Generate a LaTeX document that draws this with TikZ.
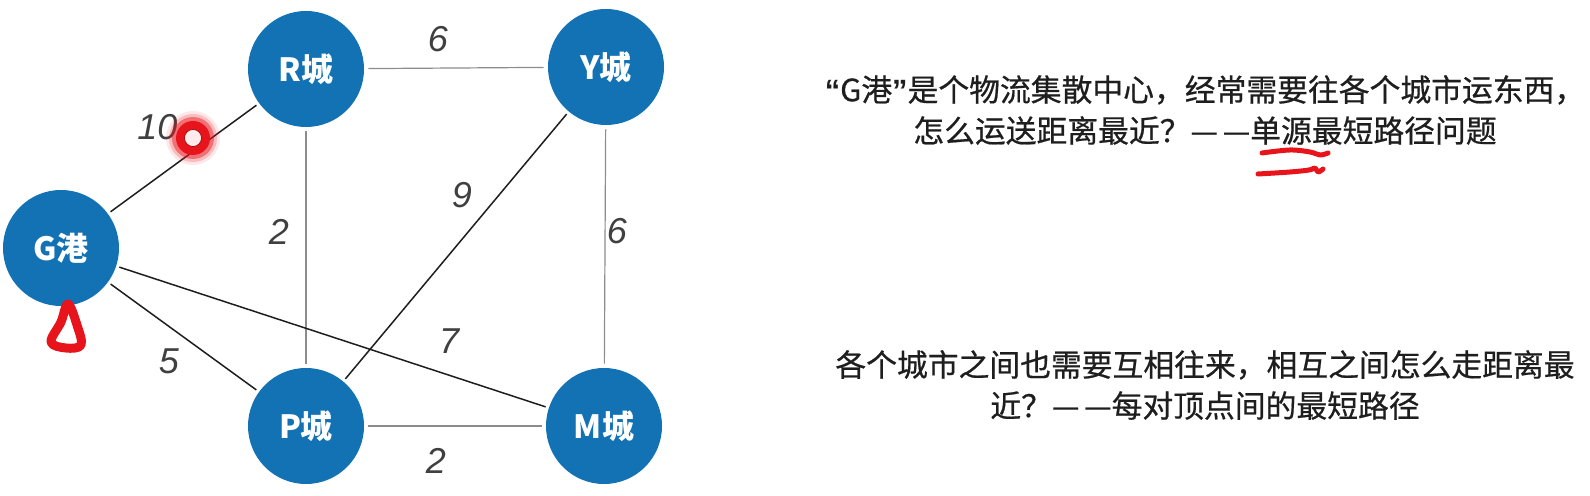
\documentclass[tikz,border=0pt]{standalone}
\usepackage{fontspec}
\usepackage{tikz}
\usetikzlibrary{positioning}
\setmainfont{Liberation Sans}
\newfontfamily\cjk{Noto Sans CJK SC}
\newfontfamily\cjkm[FakeBold=0.6]{Noto Sans CJK SC}
\definecolor{cityblue}{HTML}{1272B4}
\definecolor{ink}{HTML}{1E1E1E}
\definecolor{pale}{HTML}{8C8C8C}
\definecolor{penred}{HTML}{E8141B}
\tikzset{
  city/.style={circle, fill=cityblue, minimum size=58pt, inner sep=0pt, text=white, font=\cjk\bfseries\fontsize{16}{18}\selectfont},
  road/.style={draw=ink, line width=0.75pt, shorten <=1.5pt, shorten >=1.5pt},
  lane/.style={draw=pale, line width=0.6pt, shorten <=2pt, shorten >=2pt},
  wt/.style={font=\itshape\fontsize{18}{20}\selectfont, text=ink!85, inner sep=1pt},
  note/.style={font=\cjkm\fontsize{15.4}{20.5}\selectfont, align=center, text=ink},
  scrawl/.style={draw=penred, line cap=round, line join=round},
}
\newcommand{\road}[5]{\draw[#1] (#2) -- node[wt, #4] {#5} (#3);}
\newcommand{\dd}{—\hspace{0.15em}—}

\begin{document}
\begin{tikzpicture}[x=0.5pt,y=-0.5pt]
  \useasboundingbox (0,0) rectangle (1590,496);
  % cities
  \node[city] (g) at (61,248) {G港};
  \node[city] (r) at (306,69) {R城};
  \node[city] (y) at (606,67) {Y城};
  \node[city] (p) at (306,426) {P城};
  \node[city] (m) at (604,426) {M城};
  % roads
  \road{lane}{r}{y}{shift={(-18,-29)}}{6}
  \road{road}{g}{r}{shift={(-26,-31)}}{10}
  \road{lane}{r}{p}{shift={(-27,-16)}}{2}
  \road{road}{y}{p}{shift={(6,-51)}}{9}
  \road{lane}{y}{m}{shift={(12,-15)}}{6}
  \road{road}{g}{m}{pos=0.77, shift={(0,-34)}}{7}
  \road{road}{g}{p}{shift={(-14.5,24)}}{5}
  \road{lane}{p}{m}{shift={(-19,35)}}{2}
  % red pen marks
  \foreach \rr/\op in {27/0.1, 24/0.2, 21/0.45}
    \fill[penred, opacity=\op] (193,138) circle[radius=\rr];
  \fill[penred] (193,138) circle[radius=17];
  \filldraw[fill=red!8, draw=red!55!black, line width=0.3pt] (193,138) circle[radius=8.5];
  \draw[scrawl, line width=4.5pt] plot[smooth cycle, tension=0.6] coordinates {(68,304) (61,322) (51,342) (66,348) (81,345) (77,325)};
  \draw[scrawl, line width=2.5pt] plot[smooth, tension=0.6] coordinates {(1262,153) (1290,150) (1310,152) (1320,155) (1328,153)};
  \draw[scrawl, line width=2.5pt] plot[smooth, tension=0.6] coordinates {(1258,174) (1290,172) (1309,170) (1315,168) (1318,172) (1323,169)};
  % questions
  \node[note] (q1) at (1205,110) {{\rmfamily\bfseries “}G港{\rmfamily\bfseries ”}是个物流集散中心，经常需要往各个城市运东西，\\怎么运送距离最近？\dd 单源最短路径问题};
  \node[note] (q2) at (1205,385) {各个城市之间也需要互相往来，相互之间怎么走距离最\\近？\dd 每对顶点间的最短路径};
\end{tikzpicture}
\end{document}
